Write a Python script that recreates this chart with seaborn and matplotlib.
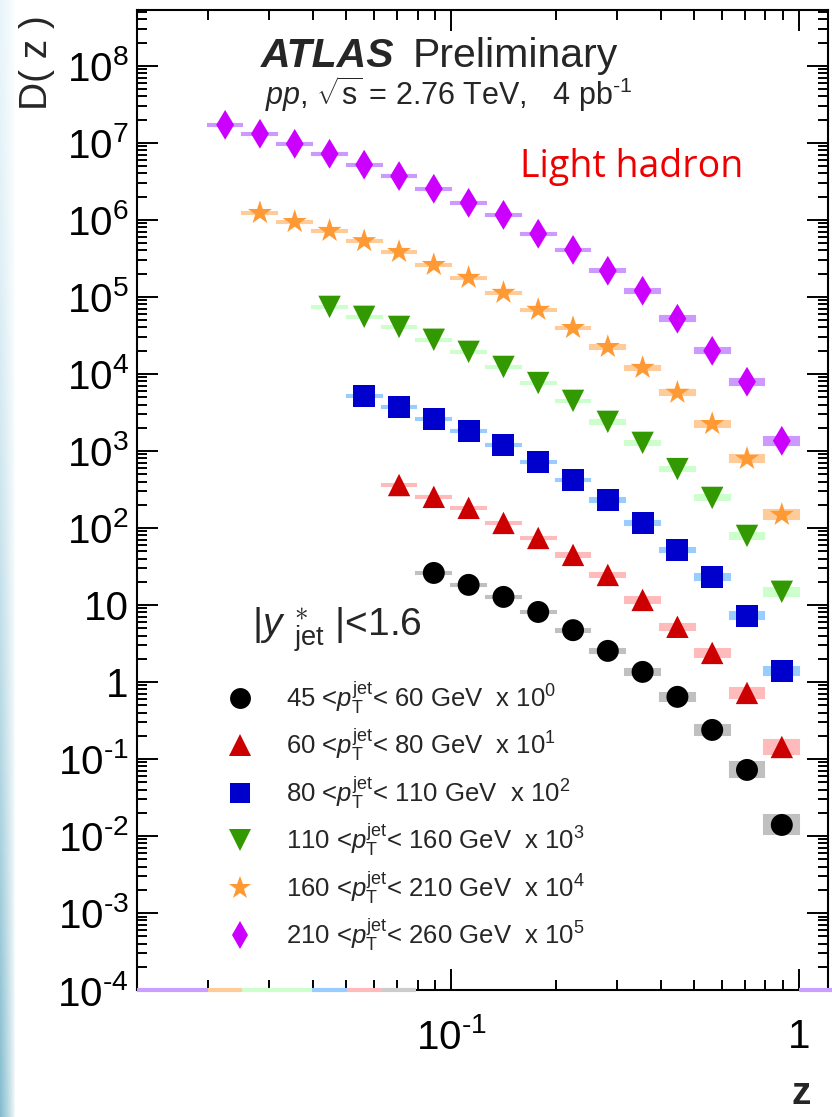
import numpy as np
import pandas as pd
import seaborn as sns
import matplotlib
matplotlib.use('Agg')
import matplotlib.pyplot as plt
from matplotlib.lines import Line2D
from matplotlib.ticker import LogLocator, FuncFormatter, NullFormatter

# z bins (10 per decade), shared by all pT ranges
z_lo = [0.0200, 0.0251, 0.0316, 0.0398, 0.0501, 0.0631, 0.0794, 0.1000, 0.1259,
        0.1585, 0.1995, 0.2512, 0.3162, 0.3981, 0.5012, 0.6310, 0.7943]
z_hi = [0.0251, 0.0316, 0.0398, 0.0501, 0.0631, 0.0794, 0.1000, 0.1259, 0.1585,
        0.1995, 0.2512, 0.3162, 0.3981, 0.5012, 0.6310, 0.7943, 1.0000]
z_mid = [0.0224, 0.0282, 0.0355, 0.0447, 0.0562, 0.0708, 0.0891, 0.1122, 0.1413,
         0.1778, 0.2239, 0.2818, 0.3548, 0.4467, 0.5623, 0.7079, 0.8913]

# D(z) values (already scaled), each series starts at a different bin
d_45 = [26, 18.2, 12.7, 8.1, 4.7, 2.53, 1.35, 0.64, 0.238, 0.072, 0.0139]
d_60 = [360, 253, 182, 116, 74, 44.6, 24.5, 11.6, 5.2, 2.38, 0.72, 0.143]
d_80 = [5200, 3700, 2600, 1820, 1200, 720, 420, 231, 116, 51.8, 23.1, 7.2, 1.39]
d_110 = [7.4e4, 5.5e4, 4.07e4, 2.77e4, 1.93e4, 1.23e4, 7.6e3, 4.46e3, 2.38e3,
         1.27e3, 580, 245, 78.7, 14.8]
d_160 = [1.23e6, 9.4e5, 7.2e5, 5.3e5, 3.84e5, 2.6e5, 1.77e5, 1.13e5, 6.8e4,
         3.95e4, 2.24e4, 1.2e4, 5.7e3, 2.24e3, 790, 148]
d_210 = [1.71e7, 1.31e7, 9.7e6, 7.2e6, 5.2e6, 3.7e6, 2.53e6, 1.66e6, 1.16e6,
         6.6e5, 4.07e5, 2.18e5, 1.2e5, 5.2e4, 1.99e4, 7.9e3, 1.35e3]

# relative systematic uncertainties (box heights)
sys_45 = [0.03, 0.03, 0.03, 0.04, 0.05, 0.06, 0.09, 0.12, 0.16, 0.25, 0.33]
sys_60 = [0.03, 0.03, 0.03, 0.03, 0.04, 0.05, 0.06, 0.08, 0.10, 0.12, 0.16, 0.22]
sys_80 = [0.03, 0.03, 0.03, 0.03, 0.03, 0.03, 0.04, 0.05, 0.06, 0.07, 0.09, 0.11, 0.14]
sys_110 = [0.03, 0.03, 0.03, 0.03, 0.03, 0.03, 0.03, 0.04, 0.05, 0.06, 0.07, 0.08, 0.10, 0.13]
sys_160 = [0.03, 0.03, 0.03, 0.03, 0.03, 0.03, 0.03, 0.03, 0.03, 0.04, 0.05, 0.06, 0.07,
           0.09, 0.11, 0.15]
sys_210 = [0.03, 0.03, 0.03, 0.03, 0.03, 0.03, 0.03, 0.03, 0.03, 0.03, 0.04, 0.05, 0.06,
           0.07, 0.08, 0.10, 0.12]

labels = [r'45 <$p_{\rm T}^{\rm jet}$< 60 GeV  x 10$^{0}$',
          r'60 <$p_{\rm T}^{\rm jet}$< 80 GeV  x 10$^{1}$',
          r'80 <$p_{\rm T}^{\rm jet}$< 110 GeV  x 10$^{2}$',
          r'110 <$p_{\rm T}^{\rm jet}$< 160 GeV  x 10$^{3}$',
          r'160 <$p_{\rm T}^{\rm jet}$< 210 GeV  x 10$^{4}$',
          r'210 <$p_{\rm T}^{\rm jet}$< 260 GeV  x 10$^{5}$']

# bins with no entry, drawn on the bottom edge (z range, colour)
empty_lo = [0.0125, 0.0200, 0.0251, 0.0398, 0.0501, 0.0631, 1.0]
empty_hi = [0.0200, 0.0251, 0.0398, 0.0501, 0.0631, 0.0794, 1.26]
empty_col = ['#c9a0ff', '#ffcc99', '#ccffcc', '#99ccff', '#ffbbbb', '#cccccc', '#c9a0ff']

series = [
    (d_45, sys_45, 'o', '#000000', '#c0c0c0', 250),
    (d_60, sys_60, '^', '#cc0000', '#ffbbbb', 260),
    (d_80, sys_80, 's', '#0000cc', '#99ccff', 250),
    (d_110, sys_110, 'v', '#339900', '#ccffcc', 260),
    (d_160, sys_160, '*', '#ff9933', '#ffcc99', 330),
    (d_210, sys_210, 'd', '#cc00ff', '#cc99ff', 230),
]

sns.set_theme(style='ticks')
plt.rcParams['font.family'] = ['Liberation Sans', 'DejaVu Sans']
plt.rcParams['mathtext.fontset'] = 'custom'
plt.rcParams['mathtext.rm'] = 'Liberation Sans'
plt.rcParams['mathtext.it'] = 'Liberation Sans:italic'
plt.rcParams['mathtext.bf'] = 'Liberation Sans:bold'

fig = plt.figure(figsize=(8.32, 11.17), dpi=100)
fig.patch.set_facecolor('white')

# slide background strip on the left
bg = fig.add_axes([0, 0, 16 / 832, 1], zorder=-10)
t = np.linspace(0, 1, 300)[:, None, None] ** 1.6
s = np.linspace(1, 0, 16)[None, :, None] ** 0.8
c_top = np.array([0.91, 0.96, 0.98])
c_bot = np.array([0.52, 0.74, 0.81])
c = c_top * (1 - t) + c_bot * t
img = 1 - s * (1 - c)
bg.imshow(np.clip(img, 0, 1), aspect='auto', extent=[0, 1, 0, 1], origin='upper')
bg.axis('off')

ax = fig.add_axes([137 / 832, 1 - 990 / 1117, 691 / 832, 980 / 1117])
ax.set_xscale('log')
ax.set_yscale('log')

handles = []
for vals, sysr, mk, c, lc, s in series:
    start = len(z_mid) - len(vals)
    df = pd.DataFrame({'z': z_mid[start:], 'D': vals, 'lo': z_lo[start:],
                       'hi': z_hi[start:], 'sys': sysr})
    low = df['D'] / (1 + df['sys'])
    high = df['D'] * (1 + df['sys'])
    ax.bar(df['lo'], high - low, bottom=low, width=df['hi'] - df['lo'], align='edge',
           color=lc, edgecolor=lc, linewidth=1.5, zorder=2)
    sns.scatterplot(data=df, x='z', y='D', marker=mk, color=c, s=s, linewidth=0,
                    edgecolor='none', ax=ax, zorder=4, legend=False)
    handles.append(Line2D([], [], marker=mk, color=c, ls='none',
                          markersize=np.sqrt(s) * 0.95, markeredgewidth=0))

for lo, hi, c in zip(empty_lo, empty_hi, empty_col):
    ax.hlines(1e-4, lo, hi, colors=c, linewidth=3, zorder=6, clip_on=False)

ax.set_xlim(0.0125, 1.21)
ax.set_ylim(1e-4, 5.3e8)


def log_label(v, pos):
    e = int(round(np.log10(v)))
    if e == 0:
        return '1'
    if e == 1:
        return '10'
    if e < 0:
        return r'$\mathregular{10^{\text{-}%d}}$' % (-e)
    return r'$\mathregular{10^{%d}}$' % e


ax.yaxis.set_major_locator(LogLocator(base=10, numticks=30))
ax.yaxis.set_minor_locator(LogLocator(base=10, subs=np.arange(2, 10), numticks=100))
ax.xaxis.set_major_locator(LogLocator(base=10, numticks=30))
ax.xaxis.set_minor_locator(LogLocator(base=10, subs=np.arange(2, 10), numticks=100))
ax.xaxis.set_major_formatter(FuncFormatter(log_label))
ax.yaxis.set_major_formatter(FuncFormatter(log_label))
ax.xaxis.set_minor_formatter(NullFormatter())
ax.yaxis.set_minor_formatter(NullFormatter())

ax.tick_params(which='both', direction='in', top=True, right=True, width=1.4,
               colors='black', labelsize=29)
ax.tick_params(which='major', length=15)
ax.tick_params(which='minor', length=7.5)
ax.tick_params(axis='x', which='major', pad=20)
ax.tick_params(axis='y', which='major', pad=6)
for sp in ax.spines.values():
    sp.set_linewidth(1.5)
    sp.set_color('black')

ax.set_ylabel('D( z )', fontsize=28, loc='top')
ax.yaxis.set_label_coords(-0.118, 0.995)
ax.set_xlabel('z', fontsize=28, fontweight='bold', loc='right')
ax.xaxis.set_label_coords(0.975, -0.088)

atl = ax.text(0.179, 0.9418, 'ATLAS', transform=ax.transAxes, fontsize=29.5,
              fontweight='bold', fontstyle='italic', va='baseline', ha='left')
ax.annotate('Preliminary', xy=(1, 0), xycoords=atl, xytext=(13, 0),
            textcoords='offset points', fontsize=29.5, va='bottom', ha='left')
ax.text(0.185, 0.903, r'$pp$, $\sqrt{\rm s}$ = 2.76 TeV,   4 pb$^{\rm \text{-}1}$',
        transform=ax.transAxes, fontsize=22, va='baseline', ha='left')
ax.text(0.554, 0.8296, 'Light hadron', transform=ax.transAxes, fontsize=27,
        color='#ee0000', family=['Open Sans', 'DejaVu Sans'], va='baseline', ha='left')

ax.text(0.166, 0.3622, r'|$y^{\;\ast}_{\;\;\rm jet}$ |<1.6', transform=ax.transAxes,
        fontsize=28, va='baseline', ha='left')

leg = ax.legend(handles, labels, loc='upper left', bbox_to_anchor=(0.112, 0.330),
                frameon=False, fontsize=18.5, labelspacing=0.42, handlelength=1.0,
                handletextpad=1.3, borderpad=0)

fig.savefig('out.png', dpi=100, facecolor='white')
